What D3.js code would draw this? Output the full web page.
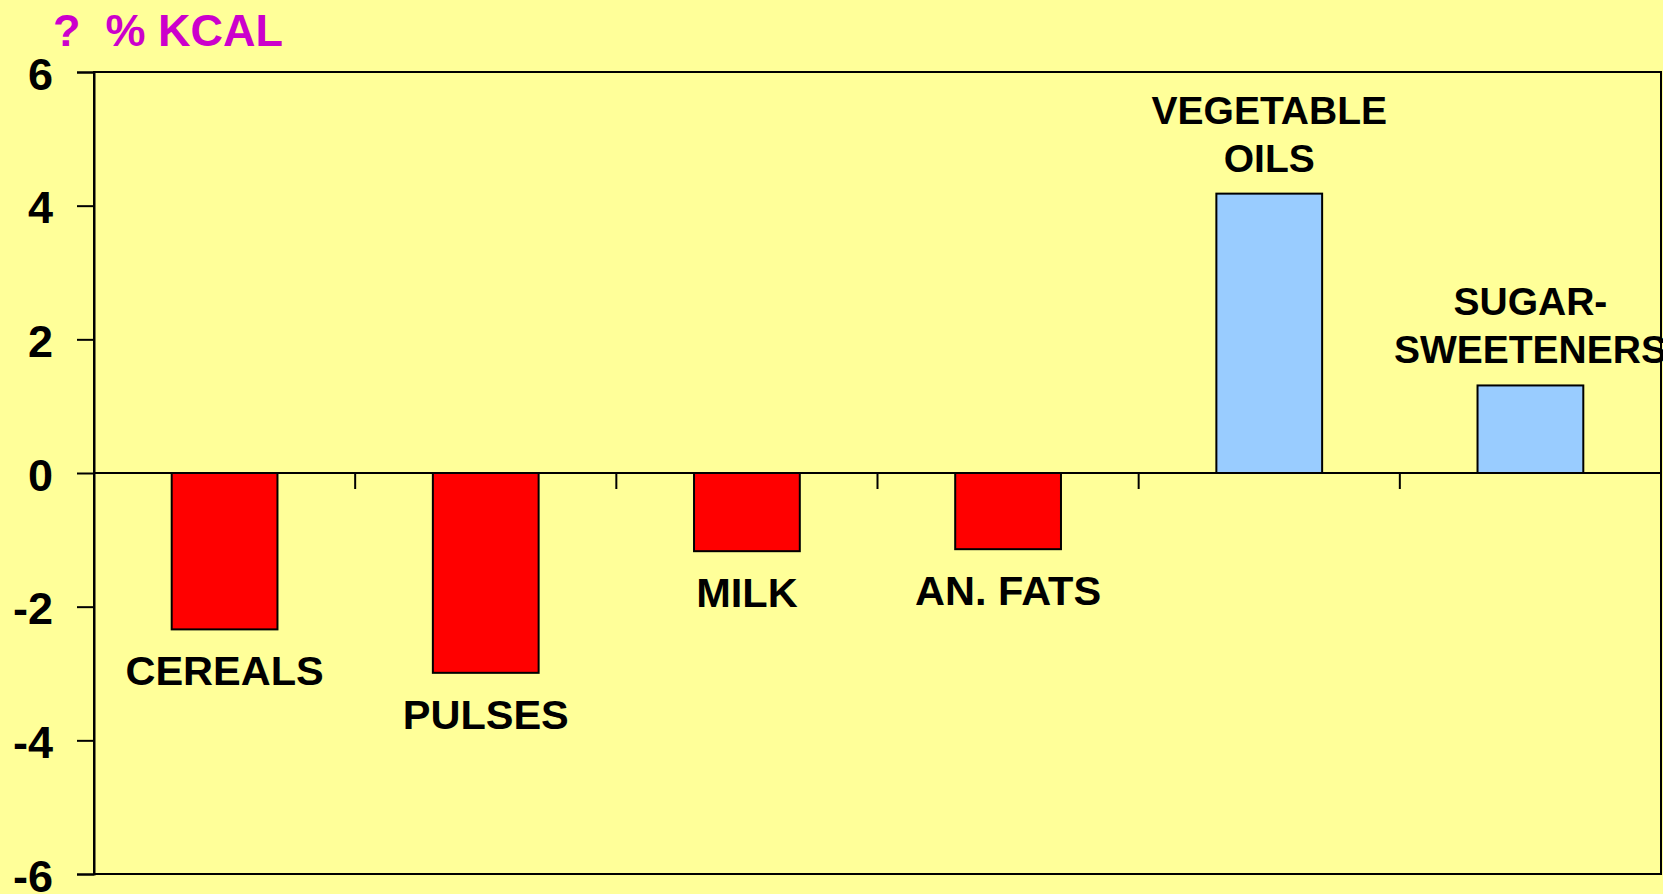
<!DOCTYPE html>
<html>
<head>
<meta charset="utf-8">
<script src="https://cdn.jsdelivr.net/npm/d3@7"></script>
<style>
  body { margin: 0; background: #FFFF99; }
  svg { display: block; font-family: "Liberation Sans", Arial, sans-serif; font-weight: bold; }
</style>
</head>
<body>
<svg id="chart" width="1663" height="894"></svg>
<script>
// data
const categories = ["CEREALS", "PULSES", "MILK", "AN. FATS", "VEGETABLE OILS", "SUGAR-SWEETENERS"];
const labelLines = [["CEREALS"], ["PULSES"], ["MILK"], ["AN. FATS"], ["VEGETABLE", "OILS"], ["SUGAR-", "SWEETENERS"]];
const values = [-2.34, -2.99, -1.17, -1.14, 4.18, 1.31];
const yTicks = [-6, -4, -2, 0, 2, 4, 6];
const titleText = "?\u00a0\u00a0% KCAL";

const plotLeft = 94, plotRight = 1661, plotTop = 72, plotBottom = 874;

const svg = d3.select("#chart");

const xScale = d3.scaleBand()
  .domain(categories)
  .range([plotLeft, plotRight])
  .padding(0);

const yScale = d3.scaleLinear()
  .domain([-6, 6])
  .range([plotBottom, plotTop]);

const barW = xScale.bandwidth() * 0.405;

// title
svg.append("text")
  .attr("x", 53)
  .attr("y", 46)
  .attr("fill", "#CC00CC")
  .style("font-size", "45px")
  .text(titleText);

// plot frame
svg.append("rect")
  .attr("x", plotLeft)
  .attr("y", plotTop)
  .attr("width", plotRight - plotLeft)
  .attr("height", plotBottom - plotTop)
  .attr("fill", "none")
  .attr("stroke", "#000")
  .attr("stroke-width", 2);

// y axis (plain hyphen for negatives, like the original)
const yAxis = svg.append("g")
  .attr("class", "axis--y")
  .attr("transform", `translate(${plotLeft},0)`)
  .call(d3.axisLeft(yScale)
    .tickValues(yTicks)
    .tickFormat(d => String(d))
    .tickSize(17)
    .tickPadding(24));

yAxis.select(".domain").attr("stroke-width", 2);
yAxis.selectAll(".tick line").attr("stroke-width", 2);
yAxis.selectAll(".tick text")
  .attr("dy", "0.38em")
  .attr("fill", "#000")
  .style("font-size", "45px")
  .style("font-family", "'Liberation Sans', Arial, sans-serif")
  .style("font-weight", "bold");

// bars
svg.selectAll("rect.bar")
  .data(values)
  .join("rect")
    .attr("class", "bar")
    .attr("x", (d, i) => xScale(categories[i]) + (xScale.bandwidth() - barW) / 2)
    .attr("width", barW)
    .attr("y", d => yScale(Math.max(0, d)))
    .attr("height", d => Math.abs(yScale(d) - yScale(0)))
    .attr("fill", d => d < 0 ? "#FF0000" : "#99CCFF")
    .attr("stroke", "#000")
    .attr("stroke-width", 2);

// zero line + category ticks between bands
svg.append("line")
  .attr("x1", plotLeft).attr("x2", plotRight)
  .attr("y1", yScale(0)).attr("y2", yScale(0))
  .attr("stroke", "#000").attr("stroke-width", 2);

svg.selectAll("line.cat-tick")
  .data(categories.slice(1))
  .join("line")
    .attr("class", "cat-tick")
    .attr("x1", d => xScale(d)).attr("x2", d => xScale(d))
    .attr("y1", yScale(0)).attr("y2", yScale(0) + 16)
    .attr("stroke", "#000").attr("stroke-width", 2);

// category labels: under negative bars, over positive bars
const lineH = 48;
const labels = svg.selectAll("text.cat-label")
  .data(values)
  .join("text")
    .attr("class", "cat-label")
    .attr("text-anchor", "middle")
    .attr("fill", "#000")
    .style("font-size", d => d < 0 ? "41.5px" : "39px")
    .attr("transform", (d, i) => {
      const cx = xScale(categories[i]) + xScale.bandwidth() / 2;
      const n = labelLines[i].length;
      const y0 = d < 0 ? yScale(d) + 56 : yScale(d) - 22 - (n - 1) * lineH;
      return `translate(${cx},${y0})`;
    });

labels.selectAll("tspan")
  .data((d, i) => labelLines[i])
  .join("tspan")
    .attr("x", 0)
    .attr("y", (d, j) => j * lineH)
    .text(d => d);
</script>
</body>
</html>
